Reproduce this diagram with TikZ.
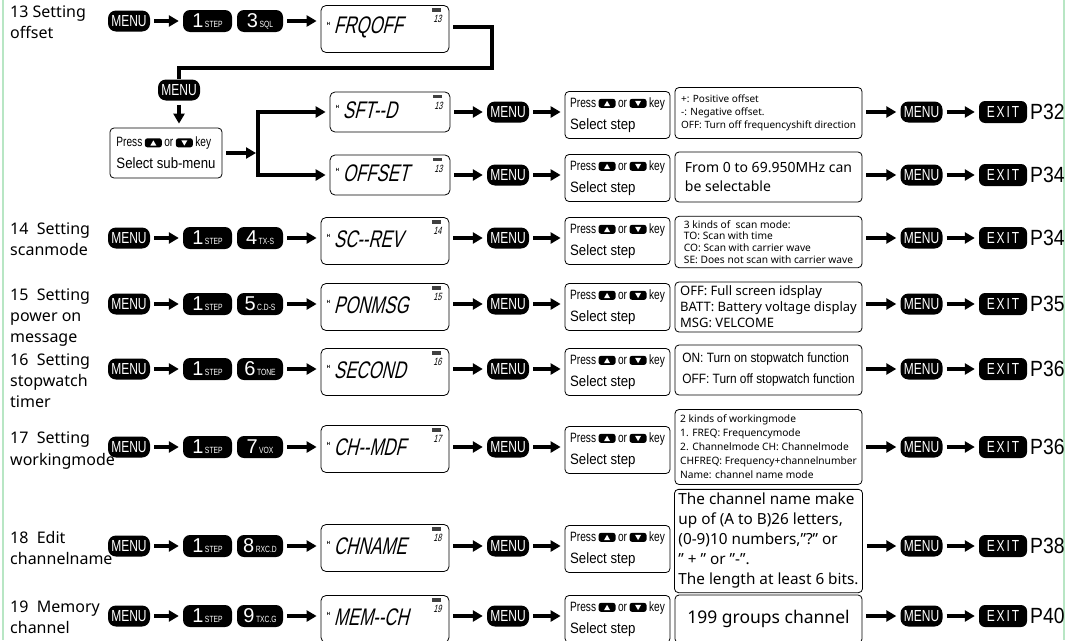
\documentclass[tikz,border=0pt]{standalone}
\usepackage{fontspec}
\setmainfont{Noto Sans}
\newfontfamily\keyfont{Liberation Sans}
\newfontfamily\condfont[FakeStretch=0.75]{Liberation Sans}
\newfontfamily\semifont[FakeStretch=0.88]{Liberation Sans}
\newfontfamily\exitfont[FakeStretch=0.75,LetterSpace=12]{Liberation Sans}
\newfontfamily\lcdfont[FakeSlant=0.25,FakeStretch=0.7]{Liberation Sans}
\usetikzlibrary{arrows.meta,positioning}
\definecolor{margin}{HTML}{B8E6C4}

\tikzset{
  blackbtn/.style={fill=black, text=white, inner sep=0pt, minimum height=22pt},
  menubtn/.style={blackbtn, rounded corners=8pt, minimum width=42pt, minimum height=21pt,
    font=\condfont\fontsize{16}{16}\selectfont},
  numbtn/.style={blackbtn, rounded corners=7pt, font=\keyfont},
  exitbtn/.style={blackbtn, rounded corners=6pt, minimum width=48pt, minimum height=22pt,
    font=\exitfont\fontsize{16}{16}\selectfont},
  lcd/.style={draw, rounded corners=5pt, line width=0.8pt, minimum width=128pt, minimum height=47pt, inner sep=0pt},
  pressbox/.style={draw, rounded corners=4pt, line width=0.8pt, minimum width=105pt, minimum height=47pt,
    inner sep=0pt, align=left, font=\fontsize{10}{16}\selectfont},
  infobox/.style={draw, rounded corners=4pt, line width=0.8pt, minimum width=187pt, inner sep=4pt, align=left},
  flow/.style={-{Triangle[length=10pt,width=11pt]}, line width=3.5pt, shorten <=4pt, shorten >=4pt},
  rowlabel/.style={anchor=north west, inner sep=0pt, align=left, font=\fontsize{16}{21}\selectfont},
  plabel/.style={anchor=west, inner sep=0pt, font=\semifont\fontsize{22}{22}\selectfont},
}

% digit key: big number, small function name
\newcommand\btnlabel[2]{{\fontsize{20}{20}\selectfont #1}\hspace{1.5pt}{\condfont\fontsize{9}{9}\selectfont #2}}
% small arrow keys
\newcommand\upkey{\tikz[baseline=0pt,sharp corners]{\fill[black,rounded corners=2.5pt] (0pt,-0.5pt) rectangle (17pt,8.5pt);
  \fill[white] (5.5pt,1.2pt) -- (11.5pt,1.2pt) -- (8.5pt,6.5pt) -- cycle;}}
\newcommand\downkey{\tikz[baseline=0pt,sharp corners]{\fill[black,rounded corners=2.5pt] (0pt,-0.5pt) rectangle (17pt,8.5pt);
  \fill[white] (5.5pt,6.5pt) -- (11.5pt,6.5pt) -- (8.5pt,1.2pt) -- cycle;}}
\newcommand\presstext[1]{{\condfont\fontsize{13.5}{13.5}\selectfont Press\hspace{2.5pt}\upkey\hspace{2.5pt}or\hspace{2.5pt}\downkey\hspace{2.5pt}key}\\[6pt]{\semifont\fontsize{15}{15}\selectfont #1}}
% screen contents: #1 node, #2 word, #3 menu number
\newcommand\lcdtext[3]{%
  \node[inner sep=0pt, font=\keyfont\bfseries\fontsize{4.5}{4.5}\selectfont] at ([xshift=8pt,yshift=5pt]#1.west) {H};
  \node[anchor=west, inner sep=0pt, font=\lcdfont\fontsize{24}{24}\selectfont] at ([xshift=13pt,yshift=2pt]#1.west) {#2};
  \fill[black!75] ([xshift=-17pt,yshift=-3pt]#1.north east) rectangle +(9pt,-3.5pt);
  \node[inner sep=0pt, font=\lcdfont\fontsize{10.5}{10.5}\selectfont] at ([xshift=-12pt,yshift=-14pt]#1.north east) {#3};}

\begin{document}
\begin{tikzpicture}[x=1pt,y=-1pt]
\useasboundingbox (0,0) rectangle (1070,640);
\clip (0,0) rectangle (1070,640);

% page rules
\draw[margin, line width=1.5pt] (3,0) -- (3,640);
\draw[margin, line width=1.5pt] (1064,0) -- (1064,640);

% left part of every row
\foreach \n/\y/\ly/\d/\s/\word/\lbl in {
  13/21/29/3/SQL/FRQOFF/{13 Setting\\offset},
  14/238/241/4/TX-S/SC-{}-REV/{14\ \ Setting\\scanmode},
  15/304/307/5/C.D-S/PONMSG/{15\ \ Setting\\power on\\message},
  16/369/372/6/TONE/SECOND/{16\ \ Setting\\stopwatch\\timer},
  17/447/449/7/VOX/CH-{}-MDF/{17\ \ Setting\\workingmode},
  18/546/548/8/RXC.D/CHNAME/{18\ \ Edit\\channelname},
  19/616/619/9/TXC.G/MEM-{}-CH/{19\ \ Memory\\channel}}
{
  \node[rowlabel] (t\n) at (10,\y-15) {\lbl};
  \node[menubtn] (m\n) at (129,\y) {MENU};
  \node[numbtn, minimum width=49pt] (a\n) at (207.5,\y) {\btnlabel{1}{STEP}};
  \node[numbtn, minimum width=46pt] (b\n) at (260,\y) {\btnlabel{\d}{\s}};
  \node[lcd] (lcd\n) at (385,\ly) {};
  \lcdtext{lcd\n}{\word}{\n}
  \draw[flow] (m\n) -- (a\n);
  \draw[flow] (b\n.east) -- (b\n.east -| lcd\n.west);
}

% menu 13 goes on to a sub-menu
\node[menubtn] (m13s) at (179,90) {MENU};
\node[pressbox, minimum width=112pt, minimum height=50pt] (ps13) at (166,153) {\presstext{Select sub-menu}};
\node[lcd, minimum width=120pt, minimum height=40pt] (lcd13a) at (390,112) {};
\lcdtext{lcd13a}{SFT-{}-D}{13}
\node[lcd, minimum width=120pt, minimum height=40pt] (lcd13b) at (390,175) {};
\lcdtext{lcd13b}{OFFSET}{13}
\coordinate (bend) at (492,27);
\coordinate (fork) at (258,153);
\coordinate (forkA) at (258,112);
\coordinate (forkB) at (258,175);
\draw[line width=3.5pt, shorten <=4pt] (lcd13.east |- bend) -- (bend) -- ++(0,41) -| (m13s.north);
\draw[flow] (m13s.south) -- (m13s.south |- ps13.north);
\draw[flow, shorten >=2pt] (ps13.east) -- (fork);
\draw[line width=3.5pt] (forkA) -- (forkB);
\draw[flow, shorten <=-1.75pt] (forkA) -- (lcd13a.west);
\draw[flow, shorten <=-1.75pt] (forkB) -- (lcd13b.west);

% explanations
\node[infobox, minimum height=51pt, font=\fontsize{10}{13}\selectfont] (i13a) at (768.5,113)
  {+: Positive offset\\-: Negative offset.\\OFF: Turn off frequencyshift direction};
\node[infobox, minimum height=50pt, font=\fontsize{14}{19}\selectfont] (i13b) at (768.5,177)
  {From 0 to 69.950MHz can\\be selectable};
\node[infobox, minimum height=51pt, font=\fontsize{10.2}{11.8}\selectfont] (i14) at (768.5,242)
  {3 kinds of\ \ scan mode:\\TO: Scan with time\\CO: Scan with carrier wave\\SE: Does not scan with carrier wave};
\node[infobox, minimum height=50pt, font=\fontsize{13}{16}\selectfont] (i15) at (768.5,307)
  {OFF: Full screen idsplay\\BATT: Battery voltage display\\MSG: VELCOME};
\node[infobox, minimum height=50pt, font=\semifont\fontsize{13.5}{21}\selectfont] (i16) at (768.5,370)
  {ON: Turn on stopwatch function\\OFF: Turn off stopwatch function};
\node[infobox, minimum height=75pt, font=\fontsize{10.2}{14}\selectfont] (i17) at (768.5,447)
  {2 kinds of workingmode\\1. FREQ: Frequencymode\\2. Channelmode CH: Channelmode\\CHFREQ: Frequency+channelnumber\\Name: channel name mode};
\node[infobox, minimum height=103pt, font=\fontsize{15.3}{20}\selectfont] (i18) at (768.5,541)
  {The channel name make\\up of (A to B)26 letters,\\(0-9)10 numbers,"?" or\\" + " or "-".\\The length at least 6 bits.};
\node[infobox, minimum height=48pt, align=center, font=\fontsize{17.5}{20}\selectfont] (i19) at (768.5,619)
  {199 groups channel};

% right part of every row
\foreach \n/\y/\by/\pg in {13a/112/115/32, 13b/175/178/34, 14/238/241/34, 15/304/307/35,
  16/369/372/36, 17/447/450/36, 18/546/549/38, 19/616/619/40}
{
  \node[menubtn] (s\n) at (508,\y) {MENU};
  \node[pressbox] (p\n) at (617.5,\by) {\presstext{Select step}};
  \node[menubtn] (e\n) at (921.5,\y) {MENU};
  \node[exitbtn] (x\n) at (1003,\y) {EXIT};
  \node[plabel] (pg\n) at (1030,\y) {P\pg};
  \draw[flow] (lcd\n.east |- s\n.west) -- (s\n.west);
  \draw[flow] (s\n.east) -- (s\n.east -| p\n.west);
  \draw[flow] (i\n.east |- e\n.west) -- (e\n.west);
  \draw[flow] (e\n) -- (x\n);
}
\end{tikzpicture}
\end{document}
